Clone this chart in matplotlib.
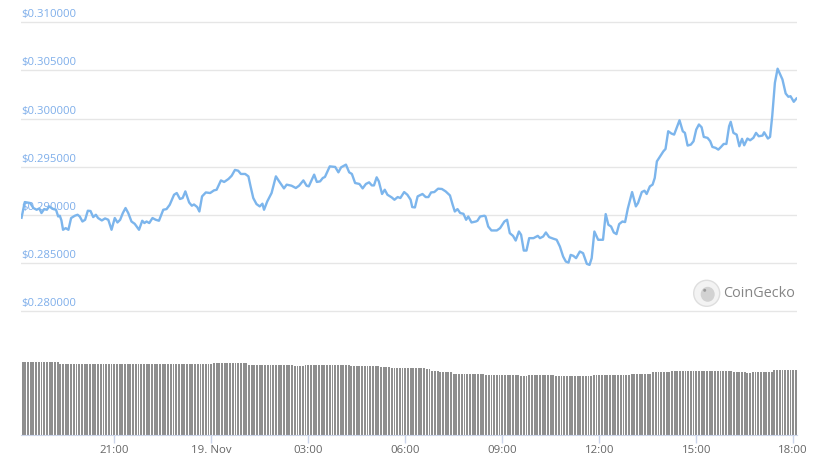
import pandas as pd
import numpy as np
import matplotlib
matplotlib.use("Agg")
import matplotlib.pyplot as plt
import matplotlib.dates as mdates
import matplotlib.transforms as mtransforms
from matplotlib.patches import Ellipse
from matplotlib.ticker import FuncFormatter

# 24h price chart, 18 Nov 18:00 -> 19 Nov 18:00
base_time = pd.Timestamp("2019-11-18 18:00")

# price readings: minutes after base_time, price in USD
price_minutes = [
    8, 14, 24, 30, 36, 41, 45, 50, 55, 59, 67, 72, 76, 79, 82, 85, 90, 95, 100, 107,
    112, 116, 121, 126, 131, 136, 141, 146, 150, 157, 163, 169, 175, 181, 186, 191, 196, 201, 206, 212,
    218, 226, 232, 236, 240, 245, 251, 257, 263, 271, 277, 283, 291, 296, 302, 307, 312, 319, 324, 328,
    334, 338, 343, 350, 358, 365, 370, 378, 384, 392, 398, 404, 410, 415, 423, 429, 433, 438, 444, 450,
    455, 458, 464, 472, 480, 486, 495, 500, 509, 517, 523, 531, 537, 541, 551, 556, 562, 567, 571, 580,
    590, 596, 601, 610, 616, 621, 627, 635, 641, 647, 653, 658, 662, 667, 671, 677, 682, 687, 695, 700,
    706, 711, 718, 724, 730, 733, 738, 743, 752, 758, 763, 768, 774, 781, 788, 795, 803, 808, 812, 817,
    822, 828, 833, 837, 843, 851, 854, 859, 867, 869, 874, 880, 890, 896, 904, 909, 914, 920, 925, 931,
    935, 940, 945, 950, 958, 966, 970, 976, 981, 987, 994, 1001, 1007, 1013, 1018, 1023, 1027, 1032, 1037, 1044,
    1050, 1057, 1062, 1066, 1071, 1078, 1087, 1092, 1097, 1102, 1107, 1112, 1117, 1123, 1128, 1133, 1141, 1148, 1152, 1159,
    1164, 1168, 1174, 1179, 1183, 1187, 1193, 1199, 1203, 1208, 1214, 1219, 1229, 1235, 1239, 1244, 1250, 1255, 1260, 1265,
    1270, 1274, 1281, 1286, 1290, 1296, 1301, 1306, 1311, 1316, 1321, 1324, 1329, 1335, 1340, 1345, 1349, 1355, 1360, 1366,
    1371, 1376, 1383, 1386, 1393, 1397, 1401, 1406, 1411, 1420, 1426, 1431, 1435, 1441, 1446,
]
price_usd = [
    0.28969, 0.29132, 0.29122, 0.29070, 0.29052, 0.29066, 0.29018, 0.29059, 0.29052, 0.29087,
    0.29059, 0.29052, 0.28982, 0.28990, 0.28941, 0.28844, 0.28861, 0.28844, 0.28966, 0.28990,
    0.29000, 0.28982, 0.28930, 0.28948, 0.29042, 0.29039, 0.28976, 0.29000, 0.28966, 0.28941,
    0.28962, 0.28948, 0.28844, 0.28966, 0.28920, 0.28948, 0.29018, 0.29070, 0.29018, 0.28930,
    0.28906, 0.28844, 0.28938, 0.28914, 0.28930, 0.28914, 0.28966, 0.28948, 0.28938, 0.29052,
    0.29059, 0.29104, 0.29208, 0.29226, 0.29164, 0.29174, 0.29243, 0.29128, 0.29094, 0.29107,
    0.29080, 0.29034, 0.29191, 0.29232, 0.29226, 0.29253, 0.29260, 0.29357, 0.29341, 0.29372,
    0.29406, 0.29466, 0.29458, 0.29424, 0.29424, 0.29399, 0.29295, 0.29174, 0.29111, 0.29087,
    0.29115, 0.29052, 0.29139, 0.29226, 0.29399, 0.29347, 0.29274, 0.29313, 0.29302, 0.29278,
    0.29302, 0.29357, 0.29302, 0.29295, 0.29417, 0.29341, 0.29347, 0.29382, 0.29393, 0.29503,
    0.29497, 0.29441, 0.29493, 0.29521, 0.29441, 0.29424, 0.29330, 0.29320, 0.29274, 0.29320,
    0.29337, 0.29305, 0.29305, 0.29389, 0.29347, 0.29216, 0.29260, 0.29208, 0.29180, 0.29156,
    0.29184, 0.29174, 0.29236, 0.29208, 0.29156, 0.29080, 0.29076, 0.29191, 0.29216, 0.29184,
    0.29184, 0.29232, 0.29236, 0.29271, 0.29268, 0.29243, 0.29201, 0.29104, 0.29034, 0.29059,
    0.29018, 0.29010, 0.28948, 0.28982, 0.28920, 0.28930, 0.28938, 0.28982, 0.28990, 0.28982,
    0.28878, 0.28837, 0.28837, 0.28861, 0.28930, 0.28948, 0.28809, 0.28781, 0.28732, 0.28826,
    0.28792, 0.28628, 0.28628, 0.28757, 0.28757, 0.28781, 0.28757, 0.28774, 0.28816, 0.28768,
    0.28753, 0.28740, 0.28670, 0.28566, 0.28514, 0.28503, 0.28583, 0.28573, 0.28549, 0.28618,
    0.28601, 0.28490, 0.28479, 0.28549, 0.28826, 0.28740, 0.28740, 0.29007, 0.28896, 0.28878,
    0.28816, 0.28799, 0.28903, 0.28930, 0.28924, 0.29063, 0.29236, 0.29087, 0.29122, 0.29236,
    0.29250, 0.29216, 0.29295, 0.29313, 0.29382, 0.29555, 0.29607, 0.29659, 0.29684, 0.29868,
    0.29844, 0.29833, 0.29982, 0.29868, 0.29851, 0.29719, 0.29729, 0.29764, 0.29885, 0.29938,
    0.29909, 0.29809, 0.29799, 0.29764, 0.29705, 0.29695, 0.29677, 0.29705, 0.29736, 0.29736,
    0.29920, 0.29966, 0.29851, 0.29833, 0.29712, 0.29789, 0.29722, 0.29792, 0.29774, 0.29799,
    0.29851, 0.29816, 0.29823, 0.29857, 0.29792, 0.29809, 0.30024, 0.30372, 0.30518, 0.30406,
    0.30260, 0.30226, 0.30232, 0.30174, 0.30208,
]

# rolling 24h volume, one bar per 5 minutes (relative units, millions)
volume_m = [
    73.3, 73.3, 72.7, 72.7, 72.7, 72.7, 72.7, 72.7, 72.7, 72.7, 72.7, 72.7, 72.7, 72.7, 71.3, 71.3, 71.3, 71.3, 71.3, 71.3, 71.3, 71.3, 71.3, 71.3,
    71.3, 71.3, 71.3, 71.3, 71.0, 71.0, 71.0, 71.0, 71.0, 71.0, 70.7, 70.7, 70.7, 70.7, 71.0, 71.0, 71.0, 71.0, 71.0, 71.0, 71.0, 71.0, 71.0, 71.0,
    71.0, 71.0, 71.0, 71.0, 71.0, 71.0, 71.0, 71.0, 71.0, 71.0, 71.0, 71.0, 71.0, 71.0, 71.0, 71.0, 71.0, 71.0, 71.0, 71.0, 71.0, 71.0, 71.0, 72.3,
    72.3, 72.3, 72.3, 72.3, 72.3, 72.3, 72.3, 72.3, 72.3, 72.3, 72.3, 72.3, 70.3, 70.3, 70.3, 70.3, 70.3, 70.3, 70.3, 70.3, 70.3, 70.3, 70.3, 70.3,
    70.3, 70.3, 70.3, 70.3, 70.3, 69.0, 69.0, 69.0, 69.0, 70.0, 70.0, 70.0, 70.0, 70.0, 70.0, 70.0, 70.0, 70.0, 70.0, 70.0, 70.0, 70.0, 70.0, 70.0,
    70.0, 70.0, 69.0, 69.0, 69.0, 69.0, 69.0, 69.0, 69.0, 69.0, 69.0, 69.0, 69.0, 68.3, 68.3, 68.3, 68.3, 67.5, 67.5, 67.5, 67.5, 67.5, 67.5, 67.5,
    67.5, 67.5, 67.5, 67.5, 67.5, 67.5, 66.0, 66.0, 64.3, 64.3, 64.3, 62.7, 62.7, 62.7, 62.7, 62.7, 61.3, 61.3, 61.3, 61.3, 61.3, 61.3, 61.3, 61.3,
    61.3, 61.3, 61.3, 61.3, 60.0, 60.0, 60.0, 60.0, 60.0, 60.0, 60.0, 60.0, 60.0, 60.0, 60.0, 60.0, 60.0, 59.3, 59.3, 59.3, 60.0, 60.0, 60.0, 60.0,
    60.0, 60.0, 60.0, 60.0, 60.0, 60.0, 59.0, 59.0, 59.0, 59.0, 59.0, 59.0, 59.0, 59.0, 59.0, 59.0, 59.0, 59.0, 59.0, 59.0, 60.0, 60.0, 60.0, 60.0,
    60.0, 60.0, 60.0, 60.0, 60.0, 60.0, 60.0, 60.0, 60.0, 60.0, 61.0, 61.0, 61.0, 61.0, 61.0, 61.0, 61.0, 61.0, 62.7, 62.7, 62.7, 62.7, 62.7, 62.7,
    62.7, 64.3, 64.3, 64.3, 64.3, 64.3, 64.3, 64.3, 64.3, 64.3, 64.3, 64.3, 64.3, 64.3, 64.3, 64.3, 64.3, 64.3, 64.3, 64.3, 64.3, 64.3, 64.3, 64.3,
    63.3, 63.3, 63.3, 63.3, 63.3, 62.3, 62.3, 63.0, 63.0, 63.0, 63.0, 63.0, 63.0, 63.0, 63.0, 65.3, 65.3, 65.3, 65.3, 65.3, 65.3, 65.3, 65.3, 65.3,
]
volume_start_min = 10
volume_step_min = 5

price_ticks = [0.280, 0.285, 0.290, 0.295, 0.300, 0.305, 0.310]

LINE_COLOR = "#7cb5ec"
BAR_COLOR = "#8e8e8e"
GRID_COLOR = "#e6e6e6"
AXIS_COLOR = "#ccd6eb"
YLABEL_COLOR = "#7eaeea"
XLABEL_COLOR = "#666666"

plt.rcParams["font.family"] = ["Open Sans", "DejaVu Sans"]

price_time = base_time + pd.to_timedelta(price_minutes, unit="min")
vol_time = pd.date_range(base_time + pd.Timedelta(minutes=volume_start_min),
                         periods=len(volume_m), freq=f"{volume_step_min}min")

W, H = 819, 470
fig = plt.figure(figsize=(W / 100, H / 100), dpi=100)

# price panel: gridlines at 0.280 (y=311px) .. 0.310 (y=22px)
px_per_usd = 48 / 0.005
top_px, bot_px = 20, 313
ax = fig.add_axes([21 / W, (H - bot_px) / H, 776 / W, (bot_px - top_px) / H])
ax.set_ylim(0.280 - (bot_px - 311) / px_per_usd, 0.310 + (22.3 - top_px) / px_per_usd)

# volume panel underneath
ax_vol = fig.add_axes([21 / W, (H - 435) / H, 776 / W, 80 / H])
ax_vol.set_ylim(0, 80)

xmin = price_time[0] - pd.Timedelta(minutes=1)
xmax = price_time[-1] + pd.Timedelta(minutes=1)
for a in (ax, ax_vol):
    a.set_xlim(xmin, xmax)
    for s in a.spines.values():
        s.set_visible(False)

# gridlines + labels sitting just above them
ax.set_yticks(price_ticks)
ax.yaxis.grid(True, color=GRID_COLOR, lw=1)
ax.set_axisbelow(True)
ax.tick_params(left=False, labelleft=False, bottom=False, labelbottom=False)
lbl_trans = mtransforms.offset_copy(ax.get_yaxis_transform(), fig=fig, x=0, y=2, units="dots")
for v in price_ticks:
    ax.text(0, v, f"${v:.6f}", transform=lbl_trans, ha="left", va="bottom",
            fontsize=8.1, color=YLABEL_COLOR, zorder=1)

ax.plot(price_time, price_usd, color=LINE_COLOR, lw=1.7, zorder=3, solid_joinstyle="round")

# volume bars
bar_w = pd.Timedelta(minutes=volume_step_min * 0.7)
ax_vol.bar(vol_time, volume_m, width=bar_w, color=BAR_COLOR, linewidth=0)
ax_vol.spines["bottom"].set_visible(True)
ax_vol.spines["bottom"].set_color(AXIS_COLOR)
ax_vol.tick_params(left=False, labelleft=False)
ax_vol.tick_params(axis="x", direction="out", length=6, width=1, color=AXIS_COLOR,
                   labelcolor=XLABEL_COLOR, labelsize=8.2, pad=1.5)


def time_label(x, pos):
    d = mdates.num2date(x)
    if d.hour == 0 and d.minute == 0:
        return f"{d.day}. {d.strftime('%b')}"
    return d.strftime("%H:%M")


ax_vol.xaxis.set_major_locator(mdates.HourLocator(byhour=range(0, 24, 3)))
ax_vol.xaxis.set_major_formatter(FuncFormatter(time_label))

# CoinGecko watermark
cx, cy, r = 706.7, H - 293.3, 13
fig.add_artist(Ellipse((cx / W, cy / H), 2 * r / W, 2 * r / H,
                       facecolor="#f3f3f3", edgecolor="#dedede", lw=1))
fig.add_artist(Ellipse(((cx + 1) / W, (cy - 1) / H), 14 / W, 15 / H,
                       facecolor="#d2d2d2", edgecolor="none"))
fig.add_artist(Ellipse(((cx - 2) / W, (cy + 3) / H), 3 / W, 3 / H,
                       facecolor="#9a9a9a", edgecolor="none"))
fig.text(723 / W, cy / H, "CoinGecko", ha="left", va="center",
         fontsize=10.4, color="#858585")

fig.savefig("out.png", dpi=100)
